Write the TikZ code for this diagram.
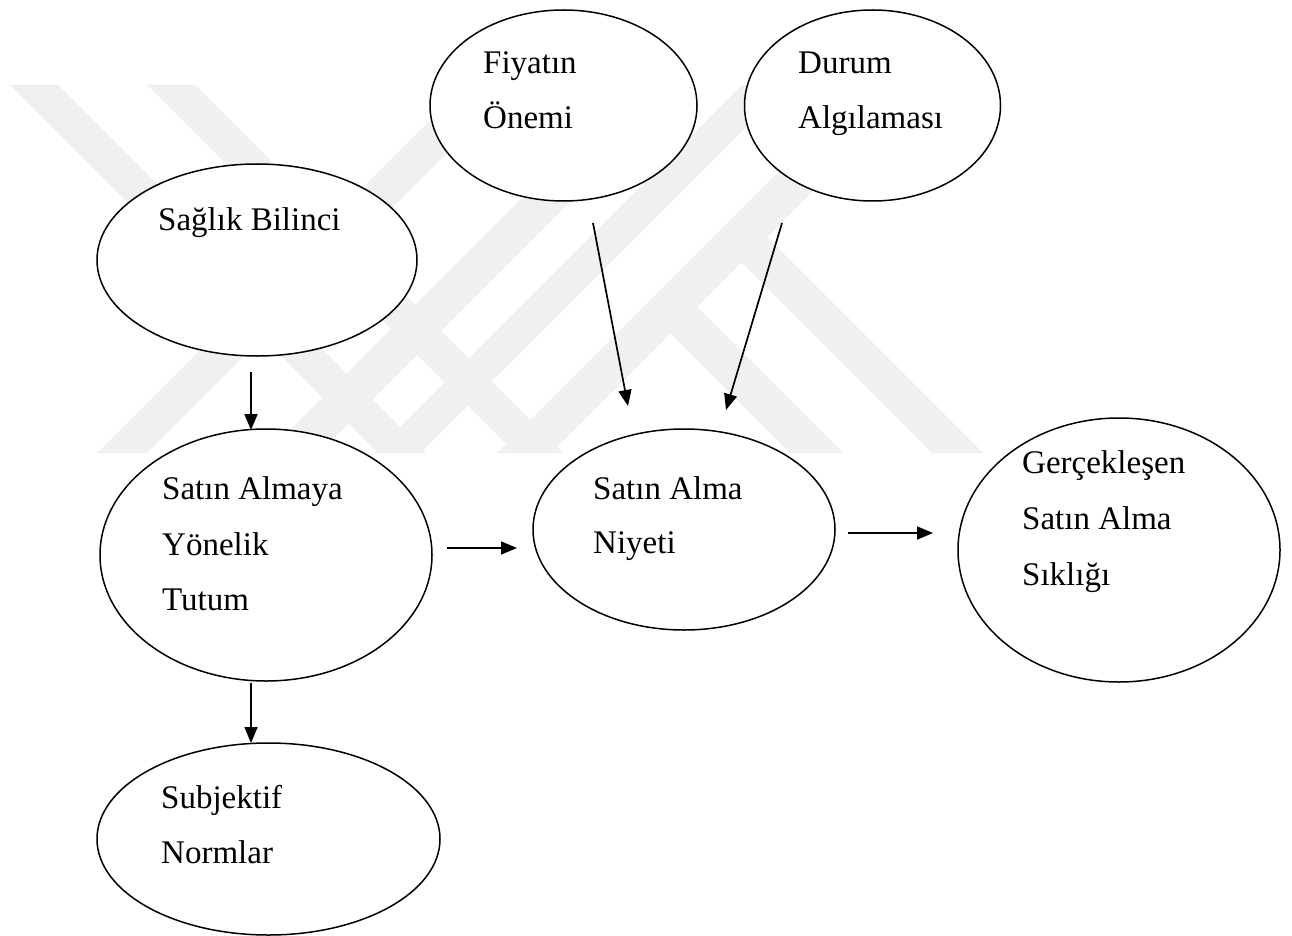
\documentclass[tikz,border=0pt]{standalone}
\usepackage{fontspec}
\setmainfont{Liberation Serif}
\usetikzlibrary{shapes.geometric,arrows.meta}
\begin{document}
\begin{tikzpicture}[x=1pt,y=-1pt,
  bubble/.style={ellipse,draw=black,line width=1.5pt,fill=white,inner sep=0pt},
  lbl/.style={anchor=base west,inner sep=0pt,font=\fontsize{33}{40}\selectfont},
  conn/.style={line width=1.7pt,-{Triangle[length=16pt,width=13pt]}},
  wm/.style={fill=black!6,draw=none}]
\useasboundingbox (0,0) rectangle (1292,936);
\fill[white] (0,0) rectangle (1292,936);
% watermark
\fill[wm] (10,85)--(58,85)--(426,453)--(378,453)--cycle;
\fill[wm] (147,85)--(195,85)--(563,453)--(515,453)--cycle;
\fill[wm] (465,85)--(515,85)--(147,453)--(97,453)--cycle;
\fill[wm] (635,85)--(687,85)--(319,453)--(267,453)--cycle;
\fill[wm] (742,85)--(788,85)--(420,453)--(374,453)--cycle;
\fill[wm] (865,85)--(919,85)--(551,453)--(497,453)--cycle;
\fill[wm] (741.5,262.5)--(767,237)--(983,453)--(932,453)--cycle;
\fill[wm] (670.5,333.5)--(697,307)--(843,453)--(790,453)--cycle;
% ellipses
\node[bubble,minimum width=320pt,minimum height=192pt] (sag) at (257,260) {};
\node[bubble,minimum width=267pt,minimum height=191pt] (fiy) at (563.5,105.5) {};
\node[bubble,minimum width=256pt,minimum height=191pt] (dur) at (872.5,105.5) {};
\node[bubble,minimum width=332pt,minimum height=252pt] (tut) at (266,555) {};
\node[bubble,minimum width=302pt,minimum height=201pt] (niy) at (684,529.5) {};
\node[bubble,minimum width=322pt,minimum height=264pt] (ger) at (1119,550) {};
\node[bubble,minimum width=343pt,minimum height=192pt] (sub) at (268.5,839) {};
% texts
\node[lbl] (sag1) at (158,230) {Sağlık Bilinci};
\node[lbl] (fiy1) at (483,74) {Fiyatın};
\node[lbl] (fiy2) at (483,129) {Önemi};
\node[lbl] (dur1) at (798,74) {Durum};
\node[lbl] (dur2) at (798,129) {Algılaması};
\node[lbl] (tut1) at (162,499) {Satın Almaya};
\node[lbl] (tut2) at (162,555) {Yönelik};
\node[lbl] (tut3) at (162,610) {Tutum};
\node[lbl] (niy1) at (593,499) {Satın Alma};
\node[lbl] (niy2) at (593,553) {Niyeti};
\node[lbl] (ger1) at (1022,473) {Gerçekleşen};
\node[lbl] (ger2) at (1022,529) {Satın Alma};
\node[lbl] (ger3) at (1022,585) {Sıklığı};
\node[lbl] (sub1) at (161,808) {Subjektif};
\node[lbl] (sub2) at (161,863) {Normlar};
% connector end points
\coordinate (c1s) at (251,372); \coordinate (c1e) at (251,430);
\coordinate (c2s) at (251,683); \coordinate (c2e) at (251,743);
\coordinate (c3s) at (447,548); \coordinate (c3e) at (517,548);
\coordinate (c4s) at (848,533); \coordinate (c4e) at (933,533);
\coordinate (c5s) at (593,223); \coordinate (c5e) at (628,406);
\coordinate (c6s) at (782,223); \coordinate (c6e) at (726,410);
\draw[conn] (c1s) -- (c1e);
\draw[conn] (c2s) -- (c2e);
\draw[conn] (c3s) -- (c3e);
\draw[conn] (c4s) -- (c4e);
\draw[conn] (c5s) -- (c5e);
\draw[conn] (c6s) -- (c6e);
\end{tikzpicture}
\end{document}
